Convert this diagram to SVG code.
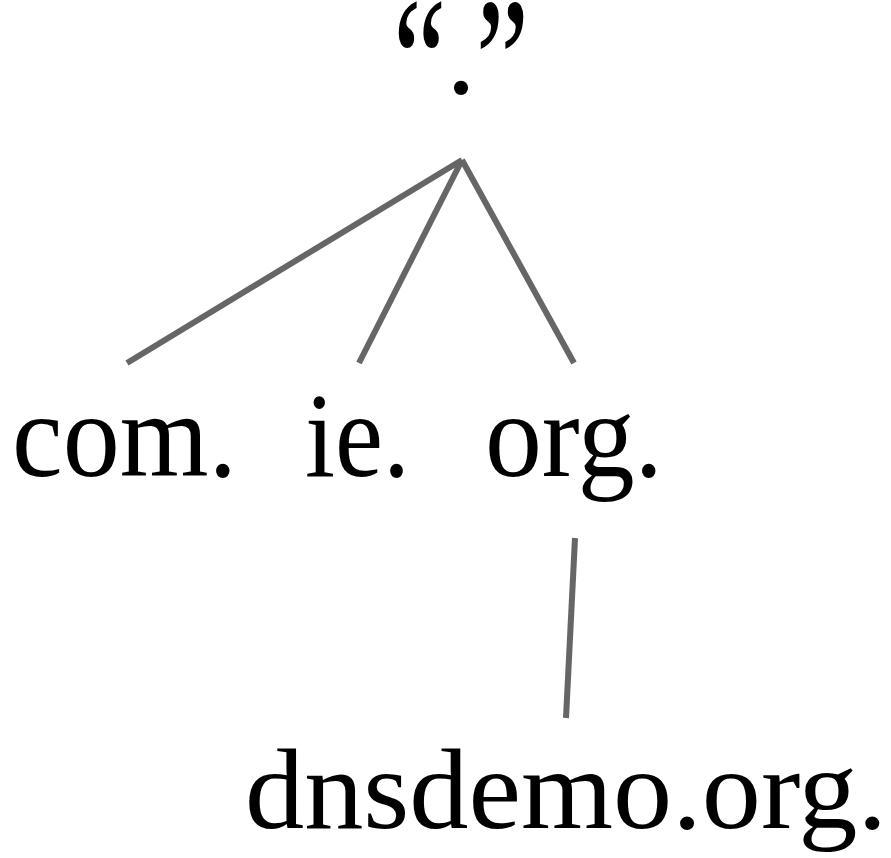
<svg xmlns="http://www.w3.org/2000/svg" width="891" height="858" viewBox="0 0 891 858">
  <style>
    .lbl { font-family: "Liberation Serif", "DejaVu Serif", serif; fill: #000; }
    .edge { stroke: #666; stroke-width: 6; fill: none; }
  </style>
  <rect width="891" height="858" fill="#fff"/>
  <g id="connectors">
    <line class="edge" x1="462" y1="160" x2="127" y2="363"/>
    <line class="edge" x1="462" y1="160" x2="359" y2="363"/>
    <line class="edge" x1="462" y1="160" x2="574" y2="363"/>
    <line class="edge" x1="575" y1="538" x2="566" y2="718"/>
  </g>
  <g id="root">
    <text class="lbl" font-size="120" transform="translate(393 123) scale(1 1.52)">“</text>
    <text class="lbl" x="461" y="93" font-size="120" text-anchor="middle">.</text>
    <text class="lbl" font-size="120" text-anchor="end" transform="translate(529 123) scale(1 1.52)">”</text>
  </g>
  <g id="com">
    <text class="lbl" x="12" y="476" font-size="120" textLength="225" lengthAdjust="spacingAndGlyphs">com.</text>
  </g>
  <g id="ie">
    <text class="lbl" x="305" y="476" font-size="120" textLength="105" lengthAdjust="spacingAndGlyphs">ie.</text>
  </g>
  <g id="org">
    <text class="lbl" x="485" y="476" font-size="120" textLength="178" lengthAdjust="spacingAndGlyphs">org.</text>
  </g>
  <g id="dnsdemo">
    <text class="lbl" x="245" y="828" font-size="114" textLength="642" lengthAdjust="spacingAndGlyphs">dnsdemo.org.</text>
  </g>
</svg>
